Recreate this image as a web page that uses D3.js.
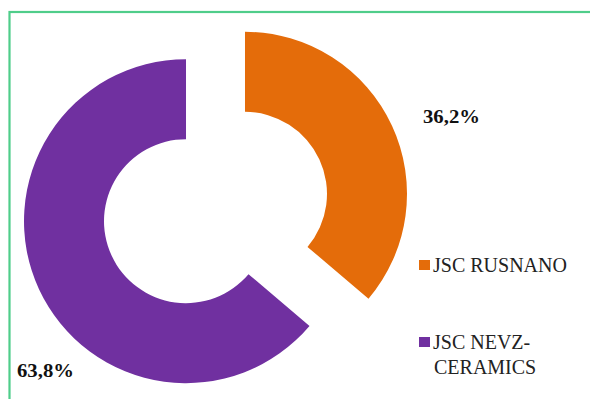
<!DOCTYPE html>
<html>
<head>
<meta charset="utf-8">
<script src="https://cdn.jsdelivr.net/npm/d3@7"></script>
</head>
<body style="margin:0;background:#fff">
<script>
const categories = ["JSC RUSNANO", "JSC NEVZ-CERAMICS"];
const values = [36.2, 63.8];
const valueLabels = ["36,2%", "63,8%"];
const legendLines = [["JSC RUSNANO"], ["JSC NEVZ-", "CERAMICS"]];
const colors = ["#e46c0a", "#7030a0"];

const W = 590, H = 399;
const FONT = '"Liberation Serif", Tinos, "Times New Roman", serif';

const svg = d3.select("body").append("svg").attr("width", W).attr("height", H)
  .attr("font-family", FONT)
  .style("display", "block");

svg.append("rect").attr("x", 0).attr("y", 0).attr("width", W).attr("height", H).attr("fill", "#fff");
svg.append("rect").attr("x", 9.5).attr("y", 12).attr("width", 800).attr("height", 600)
  .attr("fill", "none").attr("stroke", "#4fcd8a").attr("stroke-width", 2.2);

const cx = 215.5, cy = 207.5, outerR = 162, innerR = 82, explode = 32.5;
const color = d3.scaleOrdinal().domain(categories).range(colors);

const pie = d3.pie().sort(null).value(d => d.v);
const arcs = pie(categories.map((c, i) => ({c, v: values[i], label: valueLabels[i]})));
const arc = d3.arc().innerRadius(innerR).outerRadius(outerR);

const g = svg.append("g").attr("transform", `translate(${cx},${cy})`);
g.selectAll("path").data(arcs).join("path")
  .attr("d", arc)
  .attr("fill", d => color(d.data.c))
  .attr("transform", d => {
    const a = (d.startAngle + d.endAngle) / 2;
    return `translate(${explode * Math.sin(a)},${-explode * Math.cos(a)})`;
  });

// data labels
const labelPos = [[423, 123], [17, 377]];
arcs.forEach((d, i) => {
  svg.append("text")
    .attr("x", labelPos[i][0])
    .attr("y", labelPos[i][1])
    .style("font-family", FONT)
    .attr("font-weight", "bold")
    .attr("font-size", 18)
    .attr("textLength", 57)
    .attr("lengthAdjust", "spacingAndGlyphs")
    .attr("fill", "#111")
    .text(d.data.label);
});

// legend
const legendY = [260, 337];
categories.forEach((c, i) => {
  svg.append("rect").attr("x", 419).attr("y", legendY[i]).attr("width", 11).attr("height", 10)
    .attr("fill", color(c));
  legendLines[i].forEach((line, j) => {
    svg.append("text")
      .attr("x", 433 + j).attr("y", legendY[i] + 12 + j * 25)
      .style("font-family", FONT)
      .attr("font-size", 20)
      .attr("fill", "#222")
      .text(line);
  });
});
</script>
</body>
</html>
